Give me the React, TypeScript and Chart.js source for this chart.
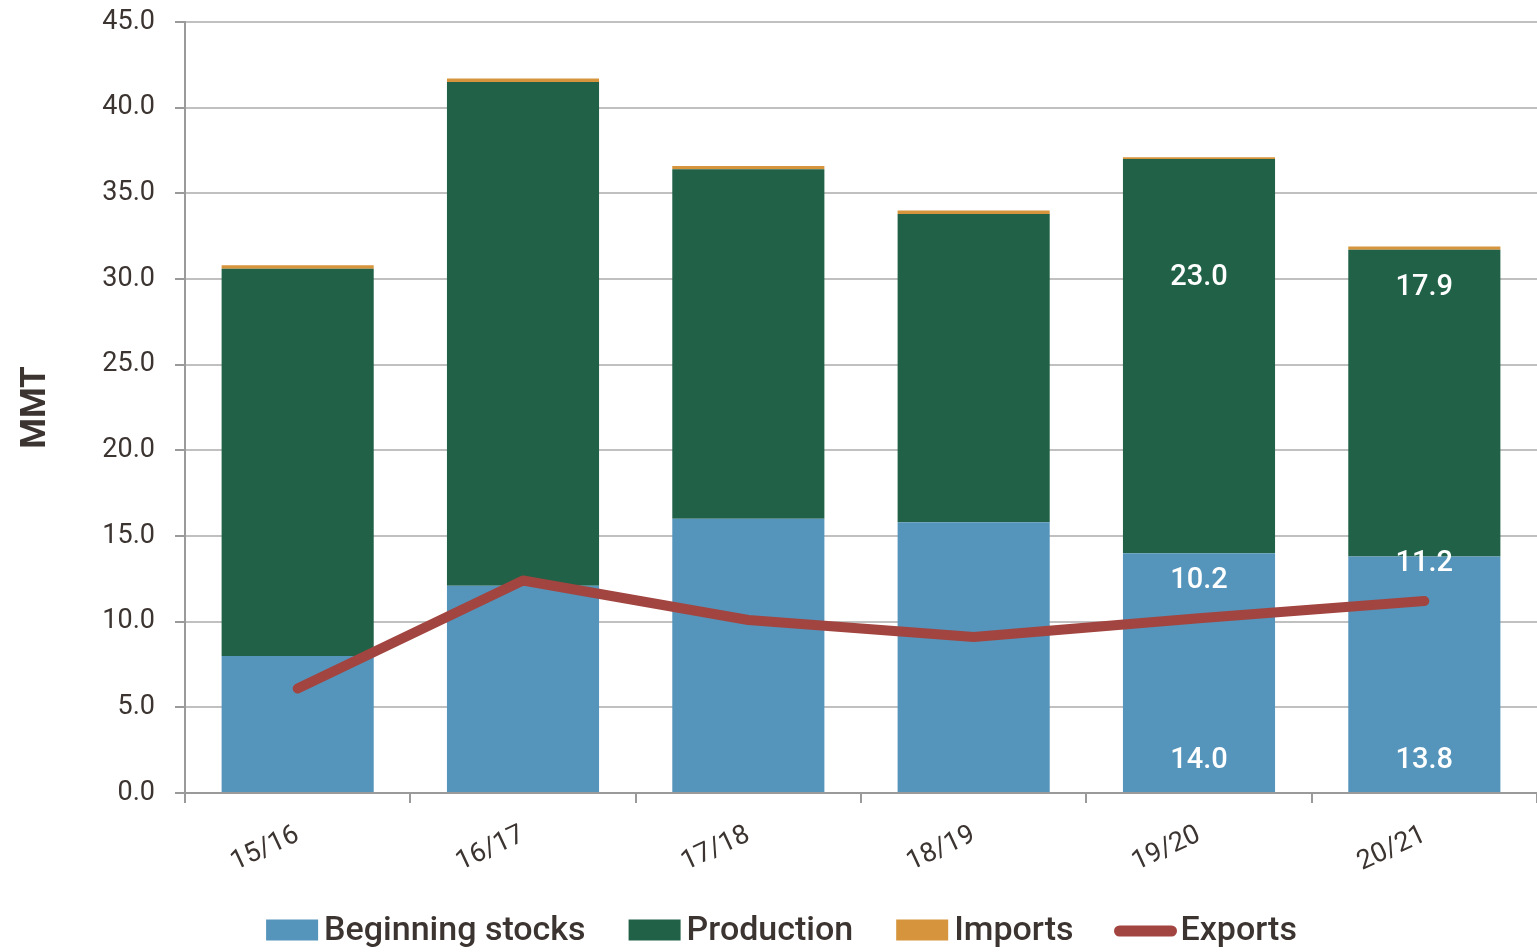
import React, { useEffect, useRef } from "react";
import { Chart, registerables } from "chart.js";

Chart.register(...registerables);

const categories = ["15/16", "16/17", "17/18", "18/19", "19/20", "20/21"];
const beginningStocks = [8.0, 12.1, 16.0, 15.8, 14.0, 13.8];
const production = [22.6, 29.4, 20.4, 18.0, 23.0, 17.9];
const imports = [0.2, 0.2, 0.2, 0.2, 0.1, 0.2];
const exportsData = [6.1, 12.4, 10.1, 9.1, 10.2, 11.2];
const yMin = 0;
const yMax = 45;
const yStep = 5;
const labeledIndexes = [4, 5];
const legendOrder = ["Beginning stocks", "Production", "Imports", "Exports"];

const FONT = "Roboto, 'Noto Sans', sans-serif";
const TEXT = "#3b3431";

const labelPlugin = {
  id: "valueLabels",
  afterDatasetsDraw(chart: any) {
    const ctx = chart.ctx;
    ctx.save();
    ctx.fillStyle = "#ffffff";
    ctx.font = `500 29px ${FONT}`;
    ctx.textAlign = "center";
    ctx.textBaseline = "middle";
    const prodOffsets: Record<number, number> = { 4: 119, 5: 38 };
    chart.data.datasets.forEach((ds: any, di: number) => {
      const meta = chart.getDatasetMeta(di);
      labeledIndexes.forEach((i) => {
        const el: any = meta.data[i];
        if (!el) return;
        const v = ds.data[i] as number;
        const txt = v.toFixed(1);
        if (ds.label === "Beginning stocks") {
          ctx.fillText(txt, el.x, el.base - 31);
        } else if (ds.label === "Production") {
          ctx.fillText(txt, el.x, el.y + (prodOffsets[i] ?? 38));
        } else if (ds.label === "Exports") {
          ctx.fillText(txt, el.x, el.y - 37);
        }
      });
    });
    ctx.restore();
  },
};

const legendPlugin = {
  id: "customLegend",
  afterDraw(chart: any) {
    const ctx = chart.ctx;
    ctx.save();
    ctx.font = `500 34px ${FONT}`;
    ctx.textBaseline = "middle";
    ctx.textAlign = "left";
    const boxW = 52;
    const boxH = 21;
    const gap = 6;
    const itemGap = 43;
    const items = legendOrder.map((name) => {
      const ds = chart.data.datasets.find((d: any) => d.label === name);
      return { name, ds, tw: ctx.measureText(name).width };
    });
    const total = items.reduce((s, it) => s + boxW + gap + it.tw, 0) + itemGap * (items.length - 1) + 6;
    let x = chart.width / 2 + 13 - total / 2;
    const cy = 930;
    items.forEach((it) => {
      if (it.ds.type === "line") {
        ctx.strokeStyle = it.ds.borderColor;
        ctx.lineWidth = 11;
        ctx.lineCap = "round";
        ctx.beginPath();
        ctx.moveTo(x + 3, cy + 1);
        ctx.lineTo(x + boxW + 3, cy + 1);
        ctx.stroke();
        x += 6;
      } else {
        ctx.fillStyle = it.ds.backgroundColor;
        ctx.fillRect(x, cy - boxH / 2, boxW, boxH);
      }
      x += boxW + gap;
      ctx.fillStyle = TEXT;
      ctx.fillText(it.name, x, cy + 1);
      x += it.tw + itemGap;
    });
    ctx.restore();
  },
};

export default function App() {
  const ref = useRef<HTMLCanvasElement | null>(null);

  useEffect(() => {
    document.body.style.margin = "0";
    const canvas = ref.current!;
    const chart = new Chart(canvas, {
      type: "bar",
      data: {
        labels: categories,
        datasets: [
          {
            type: "line",
            label: "Exports",
            data: exportsData,
            borderColor: "#a24540",
            backgroundColor: "#a24540",
            borderWidth: 10,
            borderCapStyle: "round",
            borderJoinStyle: "round",
            pointRadius: 0,
            order: 0,
          } as any,
          {
            label: "Beginning stocks",
            data: beginningStocks,
            backgroundColor: "#5594bb",
            borderWidth: 0,
            stack: "s",
            order: 1,
          },
          {
            label: "Production",
            data: production,
            backgroundColor: "#216147",
            borderWidth: 0,
            stack: "s",
            order: 1,
          },
          {
            label: "Imports",
            data: imports,
            backgroundColor: "#d6953d",
            borderWidth: 0,
            stack: "s",
            order: 1,
          },
        ],
      },
      options: {
        responsive: false,
        animation: false,
        layout: { padding: { left: 0, right: 0, top: 22, bottom: 0 } },
        datasets: { bar: { categoryPercentage: 1, barPercentage: 0.675 } },
        scales: {
          x: {
            stacked: true,
            afterFit: (s: any) => {
              s.height = 159;
              s.paddingLeft = 0;
              s.paddingRight = 0;
            },
            grid: {
              offset: true,
              drawOnChartArea: false,
              drawTicks: true,
              tickLength: 10,
              color: "#9a9a9a",
              lineWidth: 2,
            },
            border: { color: "#9a9a9a", width: 2 },
            ticks: {
              font: { family: FONT, size: 27 },
              color: TEXT,
              minRotation: 25,
              maxRotation: 25,
              padding: 16,
            },
          },
          y: {
            stacked: true,
            min: yMin,
            max: yMax,
            afterFit: (s: any) => {
              s.width = 185;
              s.paddingTop = 0;
              s.paddingBottom = 0;
            },
            grid: {
              color: "#c0c0c0",
              lineWidth: 2,
              tickLength: 10,
              tickColor: "#9a9a9a",
            },
            border: { color: "#9a9a9a", width: 2 },
            ticks: {
              stepSize: yStep,
              font: { family: FONT, size: 27 },
              color: TEXT,
              padding: 20,
              callback: (v: any) => Number(v).toFixed(1),
            },
            title: {
              display: true,
              text: "MMT",
              font: { family: FONT, size: 35, weight: "bold" },
              color: TEXT,
              padding: { top: 15, bottom: 0 },
            },
          },
        },
        plugins: {
          tooltip: { enabled: false },
          legend: { display: false },
        },
      },
      plugins: [labelPlugin, legendPlugin],
    });
    return () => chart.destroy();
  }, []);

  return (
    <div style={{ position: "fixed", left: 0, top: 0, width: 1537, height: 952 }}>
      <canvas ref={ref} width={1537} height={952} style={{ width: 1537, height: 952 }} />
    </div>
  );
}
